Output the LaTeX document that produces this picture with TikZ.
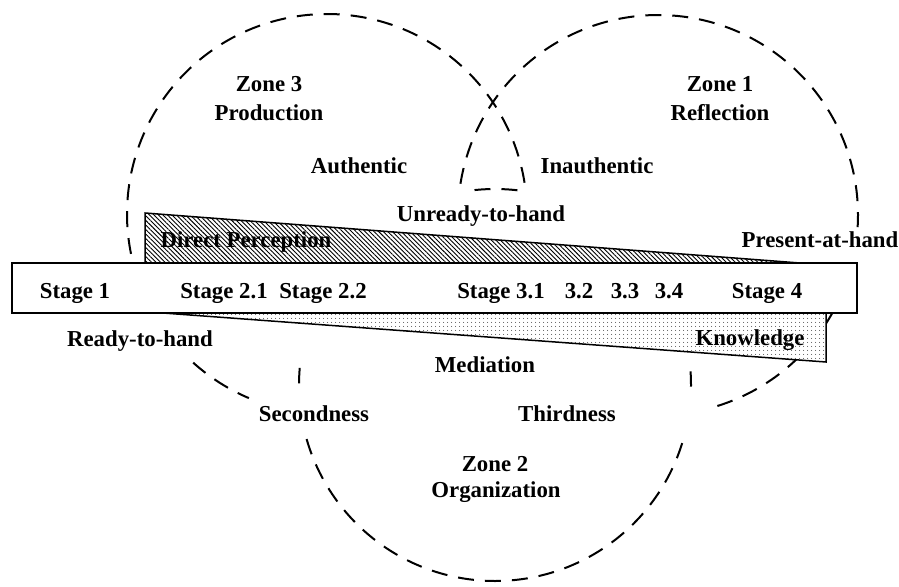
\documentclass[tikz,border=0pt]{standalone}
\usepackage{fontspec}
\setmainfont{Liberation Serif}
\usetikzlibrary{patterns.meta}
\begin{document}
\begin{tikzpicture}[x=1pt,y=-1pt,
  zone/.style={line width=2pt, dash pattern=on 16pt off 11pt, line cap=butt},
  edge/.style={draw=black, line width=1.5pt, line join=miter},
  lbl/.style={anchor=base, inner sep=0pt, font=\fontsize{22.8}{26}\selectfont\bfseries},
]
\useasboundingbox[fill=white] (0,0) rectangle (899,586);

% Zone circles: visible dashed arcs only
% Zone 3 (centre 327,214; r 200)
\draw[zone] plot[domain=-9:-194, samples=150] ({327+200*cos(\x)}, {214+200*sin(\x)});
\draw[zone] plot[domain=132:113, samples=30] ({327+200*cos(\x)}, {214+200*sin(\x)});
% Zone 1 (centre 658,215; r 200)
\draw[zone] plot[domain=189:363.5, samples=150] ({658+200*cos(\x)}, {215+200*sin(\x)});
\draw[zone] plot[domain=14:75, samples=60] ({658+200*cos(\x)}, {215+200*sin(\x)});
% Zone 2 (centre 495,385; r 196)
\draw[zone] plot[domain=264:277, samples=20] ({495+196*cos(\x)}, {385+196*sin(\x)});
\draw[zone] plot[domain=185:180.5, samples=10] ({495+196*cos(\x)}, {385+196*sin(\x)});
\draw[zone] plot[domain=164:17, samples=150] ({495+196*cos(\x)}, {385+196*sin(\x)});
\draw[zone] plot[domain=-4:0.5, samples=10] ({495+196*cos(\x)}, {385+196*sin(\x)});

% Direct perception wedge (hatched)
\draw[edge, preaction={fill=white},
      pattern={Lines[angle=-45, distance=3.2pt, line width=0.9pt]}]
  (145,213) -- (145,263) -- (800,263) -- cycle;
% Knowledge wedge (dotted)
\draw[edge, preaction={fill=white},
      pattern={Dots[radius=0.5pt, distance=4pt]}]
  (163,313) -- (826,313) -- (826,362) -- cycle;
% Stage bar
\draw[edge, fill=white] (12,263) rectangle (857,313);

% Zone titles
\node[lbl] (z3a) at (269,92)  {Zone 3};
\node[lbl] (z3b) at (269,120) {Production};
\node[lbl] (z1a) at (720,92)  {Zone 1};
\node[lbl] (z1b) at (720,120) {Reflection};
\node[lbl] (z2a) at (495,471) {Zone 2};
\node[lbl] (z2b) at (496,497) {Organization};

% Concept labels
\node[lbl] (auth)   at (359,173) {Authentic};
\node[lbl] (inauth) at (597,173) {Inauthentic};
\node[lbl] (unready) at (481,221) {Unready-to-hand};
\node[lbl] (direct) at (246,247) {Direct Perception};
\node[lbl] (present) at (820,247) {Present-at-hand};
\node[lbl] (ready)  at (140,346) {Ready-to-hand};
\node[lbl] (know)   at (750,345) {Knowledge};
\node[lbl] (med)    at (485,372) {Mediation};
\node[lbl] (second) at (314,421) {Secondness};
\node[lbl] (third)  at (567,421) {Thirdness};

% Stages along the bar
\node[lbl] (s1)  at (75,298)  {Stage 1};
\node[lbl] (s21) at (224,298) {Stage 2.1};
\node[lbl] (s22) at (323,298) {Stage 2.2};
\node[lbl] (s31) at (501,298) {Stage 3.1};
\node[lbl] (s32) at (579,298) {3.2};
\node[lbl] (s33) at (625,298) {3.3};
\node[lbl] (s34) at (669,298) {3.4};
\node[lbl] (s4)  at (767,298) {Stage 4};
\end{tikzpicture}
\end{document}
